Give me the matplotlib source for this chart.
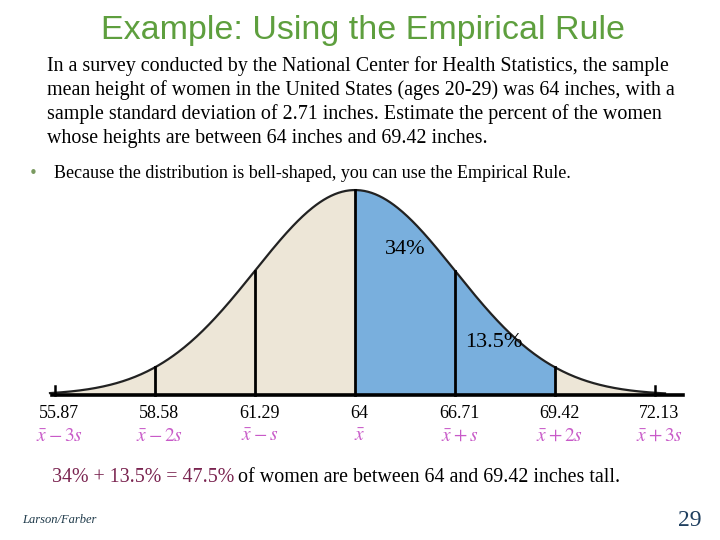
import numpy as np
import matplotlib
matplotlib.use("Agg")
import matplotlib.pyplot as plt

# survey numbers
mean = 64.0
sd = 2.71
cut_values = [55.87, 58.58, 61.29, 64, 66.71, 69.42, 72.13]
cut_symbols = [r"$\bar{x}-3s$", r"$\bar{x}-2s$", r"$\bar{x}-s$", r"$\bar{x}$",
               r"$\bar{x}+s$", r"$\bar{x}+2s$", r"$\bar{x}+3s$"]
shade_from = 64
shade_to = 69.42
pct_labels = ["34%", "13.5%"]
pct_pos = [(65.35, 0.71), (67.75, 0.255)]

plt.rcParams["mathtext.fontset"] = "stix"
serif = "Liberation Serif"

fig = plt.figure(figsize=(7.2, 5.4), dpi=100)
ax = fig.add_axes([0, 0, 1, 1])
# 100 px per standard deviation, mean at x = 355 px
ax.set_xlim(mean - 3.55 * sd, mean + 3.65 * sd)
ax.set_ylim(-0.707, 1.927)
ax.axis("off")

def bell(x):
    return np.exp(-0.5 * ((np.asarray(x) - mean) / sd) ** 2)

xs = np.linspace(mean - 3.05 * sd, mean + 3.1 * sd, 500)
ys = bell(xs)

beige = "#ede6d7"
blue = "#79afdd"
ax.fill_between(xs, 0, ys, color=beige, lw=0)
mask = (xs >= shade_from) & (xs <= shade_to)
ax.fill_between(xs[mask], 0, ys[mask], color=blue, lw=0)
ax.plot(xs, ys, color="#222222", lw=1.6)

for v in cut_values[1:-1]:
    ax.plot([v, v], [0, bell(v)], color="black", lw=2)
for v in [cut_values[0], cut_values[-1]]:
    ax.plot([v, v], [0, 0.045], color="black", lw=1.8)
ax.plot([55.79, 72.89], [0, 0], color="black", lw=2.6)

for lab, (px, py) in zip(pct_labels, pct_pos):
    ax.text(px, py, lab, ha="center", va="center", fontsize=16, family=serif)

for v, sym in zip(cut_values, cut_symbols):
    lbl = f"{v:g}"
    ax.text(v + 0.12, -0.09, lbl, ha="center", va="center", fontsize=13, family=serif)
    ax.text(v + 0.12, -0.195, sym, ha="center", va="center", fontsize=14, color="#c85ac8")

# slide texts
fig.text(0.504, 0.944, "Example: Using the Empirical Rule", ha="center", va="center",
         fontsize=24.5, color="#5e9f3e", family="Liberation Sans")
para = ["In a survey conducted by the National Center for Health Statistics, the sample",
        "mean height of women in the United States (ages 20-29) was 64 inches, with a",
        "sample standard deviation of 2.71 inches. Estimate the percent of the women",
        "whose heights are between 64 inches and 69.42 inches."]
for i, line in enumerate(para):
    fig.text(47 / 720, 1 - (66 + 24 * i) / 540, line, ha="left", va="center",
             fontsize=14.4, family=serif)
fig.text(33 / 720, 1 - 173 / 540, "•", ha="center", va="center", fontsize=11, color="#7a9a60")
fig.text(54 / 720, 1 - 173 / 540,
         "Because the distribution is bell-shaped, you can use the Empirical Rule.",
         ha="left", va="center", fontsize=13, family=serif)

t1 = fig.text(52 / 720, 1 - 478 / 540, "34% + 13.5% = 47.5%", ha="left", va="center",
              fontsize=14.4, family=serif, color="#7a2450")
fig.canvas.draw()
bb = t1.get_window_extent()
fig.text(bb.x1 / 720 + 4 / 720, 1 - 478 / 540, "of women are between 64 and 69.42 inches tall.",
         ha="left", va="center", fontsize=14.4, family=serif)

fig.text(22 / 720, 1 - 520 / 540, "Larson/Farber", ha="left", va="center", fontsize=9,
         style="italic", family=serif, color="#1f3a4a")
fig.text(690 / 720, 1 - 520 / 540, "29", ha="center", va="center", fontsize=17,
         family=serif, color="#1f3f5f")

fig.savefig("out.png", dpi=100)
